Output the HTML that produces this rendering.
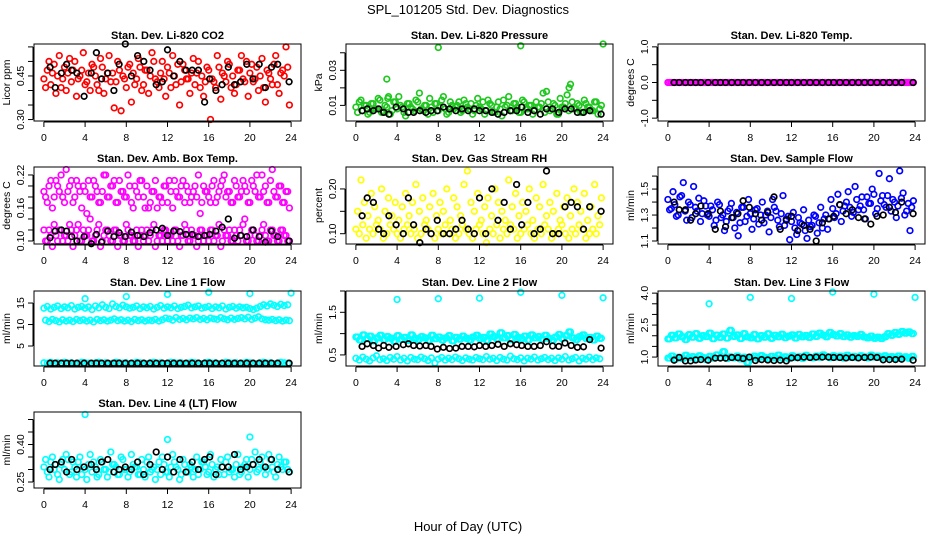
<!DOCTYPE html>
<html><head><meta charset="utf-8"><style>
body{margin:0;background:#fff;}
svg{display:block;font-family:"Liberation Sans",Arial,sans-serif;}
</style></head><body>
<svg id="chart" width="936" height="540" viewBox="0 0 936 540" xmlns="http://www.w3.org/2000/svg">
<text x="468" y="14" text-anchor="middle" font-size="13">SPL_101205  Std. Dev. Diagnostics</text>
<text x="468" y="531" text-anchor="middle" font-size="13">Hour of Day (UTC)</text>
</svg>
<script>
const T=[0,0.33,0.67,1,1.33,1.67,2,2.33,2.67,3,3.33,3.67,4,4.33,4.67,5,5.33,5.67,6,6.33,6.67,7,7.33,7.67,8,8.33,8.67,9,9.33,9.67,10,10.33,10.67,11,11.33,11.67,12,12.33,12.67,13,13.33,13.67,14,14.33,14.67,15,15.33,15.67,16,16.33,16.67,17,17.33,17.67,18,18.33,18.67,19,19.33,19.67,20,20.33,20.67,21,21.33,21.67,22,22.33,22.67,23,23.33,23.67];
const T2=[0.17,0.5,0.83,1.17,1.5,1.83,2.17,2.5,2.83,3.17,3.5,3.83,4.17,4.5,4.83,5.17,5.5,5.83,6.17,6.5,6.83,7.17,7.5,7.83,8.17,8.5,8.83,9.17,9.5,9.83,10.17,10.5,10.83,11.17,11.5,11.83,12.17,12.5,12.83,13.17,13.5,13.83,14.17,14.5,14.83,15.17,15.5,15.83,16.17,16.5,16.83,17.17,17.5,17.83,18.17,18.5,18.83,19.17,19.5,19.83,20.17,20.5,20.83,21.17,21.5,21.83,22.17,22.5,22.83,23.17,23.5,23.83];
const TB=[0.6,1.1,1.7,2.2,2.7,3.2,3.9,4.6,5.1,5.6,6.2,6.8,7.3,7.9,8.5,9.1,9.7,10.3,10.9,11.5,12.0,12.6,13.2,13.8,14.4,15.0,15.6,16.1,16.7,17.3,17.9,18.5,19.1,19.7,20.3,20.9,21.5,22.1,22.7,23.8];
const TOUT=[4,8,12,16,20,24];
const xTicks=[0,4,8,12,16,20,24];

const co2A=[0.44,0.47,0.42,0.49,0.45,0.41,0.48,0.46,0.43,0.50,0.44,0.47,0.42,0.46,0.49,0.45,0.40,0.48,0.44,0.52,0.46,0.43,0.47,0.45,0.41,0.49,0.46,0.44,0.48,0.42,0.47,0.45,0.50,0.43,0.46,0.44,0.48,0.41,0.45,0.49,0.43,0.47,0.44,0.46,0.42,0.50,0.45,0.43,0.47,0.44,0.41,0.48,0.46,0.43,0.49,0.45,0.42,0.47,0.44,0.50,0.46,0.43,0.48,0.45,0.41,0.47,0.44,0.49,0.42,0.46,0.45,0.48];
const co2B=[0.41,0.50,0.46,0.39,0.52,0.44,0.40,0.51,0.47,0.38,0.45,0.53,0.43,0.40,0.48,0.42,0.51,0.39,0.46,0.43,0.34,0.50,0.33,0.44,0.48,0.36,0.42,0.51,0.40,0.47,0.39,0.53,0.44,0.41,0.50,0.38,0.46,0.52,0.42,0.35,0.49,0.44,0.39,0.51,0.46,0.41,0.38,0.48,0.30,0.43,0.52,0.37,0.45,0.50,0.41,0.39,0.47,0.52,0.43,0.38,0.49,0.44,0.40,0.51,0.36,0.46,0.42,0.52,0.39,0.47,0.55,0.35];
const co2K=[0.48,0.41,0.46,0.49,0.47,0.46,0.38,0.46,0.53,0.44,0.46,0.40,0.49,0.56,0.45,0.52,0.50,0.47,0.42,0.43,0.54,0.45,0.50,0.47,0.47,0.47,0.36,0.44,0.40,0.42,0.48,0.42,0.43,0.49,0.44,0.49,0.41,0.48,0.49,0.43];

const prA=[0.009,0.012,0.007,0.010,0.006,0.011,0.008,0.013,0.007,0.009,0.005,0.012,0.008,0.010,0.006,0.011,0.009,0.007,0.012,0.008,0.010,0.005,0.009,0.011,0.007,0.013,0.008,0.006,0.010,0.009,0.012,0.007,0.011,0.008,0.005,0.010,0.009,0.012,0.007,0.011,0.006,0.009,0.008,0.013,0.010,0.007,0.011,0.009,0.006,0.012,0.008,0.010,0.007,0.009,0.011,0.006,0.012,0.008,0.010,0.005,0.009,0.011,0.007,0.012,0.008,0.010,0.006,0.011,0.009,0.007,0.012,0.008];
const prB=[0.006,0.013,0.010,0.005,0.011,0.008,0.014,0.006,0.010,0.015,0.007,0.012,0.015,0.009,0.004,0.011,0.008,0.013,0.017,0.007,0.010,0.014,0.006,0.011,0.009,0.015,0.005,0.012,0.008,0.010,0.006,0.013,0.009,0.011,0.007,0.014,0.008,0.005,0.013,0.010,0.006,0.012,0.004,0.009,0.015,0.007,0.011,0.006,0.013,0.008,0.010,0.005,0.012,0.009,0.017,0.018,0.007,0.011,0.005,0.014,0.009,0.016,0.022,0.008,0.011,0.006,0.013,0.009,0.007,0.012,0.005,0.010];
const prOutT=[3,8,16,24,20.7,3.1];
const prOut=[0.025,0.043,0.044,0.045,0.020,0.014];
const prK=[0.007,0.008,0.007,0.008,0.006,0.005,0.009,0.008,0.006,0.006,0.007,0.006,0.007,0.007,0.009,0.008,0.007,0.008,0.007,0.008,0.007,0.007,0.006,0.005,0.006,0.007,0.007,0.009,0.006,0.007,0.005,0.008,0.008,0.006,0.008,0.008,0.006,0.006,0.007,0.005];

const tmA=[0,0,0,0,0,0,0,0,0,0,0,0,0,0,0,0,0,0,0,0,0,0,0,0,0,0,0,0,0,0,0,0,0,0,0,0,0,0,0,0,0,0,0,0,0,0,0,0,0,0,0,0,0,0,0,0,0,0,0,0,0,0,0,0,0,0,0,0,0,0,0,0];
const tmK=[0,0,0,0,0,0,0,0,0,0,0,0,0,0,0,0,0,0,0,0,0,0,0,0,0,0,0,0,0,0,0,0,0,0,0,0,0,0,0,0];

const abUA=[0.19,0.17,0.21,0.18,0.20,0.22,0.17,0.19,0.21,0.18,0.20,0.16,0.19,0.21,0.18,0.20,0.17,0.19,0.22,0.18,0.20,0.17,0.21,0.19,0.18,0.20,0.16,0.19,0.21,0.18,0.20,0.17,0.19,0.16,0.18,0.20,0.17,0.19,0.21,0.18,0.20,0.17,0.19,0.18,0.20,0.22,0.17,0.19,0.18,0.20,0.17,0.19,0.21,0.18,0.19,0.17,0.20,0.18,0.21,0.19,0.17,0.20,0.22,0.18,0.19,0.17,0.21,0.19,0.18,0.20,0.17,0.19];
const abUB=[0.18,0.20,0.16,0.21,0.19,0.18,0.23,0.20,0.17,0.21,0.19,0.20,0.15,0.18,0.21,0.19,0.17,0.22,0.18,0.20,0.21,0.17,0.19,0.18,0.22,0.17,0.20,0.18,0.21,0.16,0.16,0.19,0.21,0.18,0.17,0.20,0.21,0.16,0.19,0.18,0.21,0.20,0.17,0.19,0.18,0.15,0.20,0.19,0.17,0.21,0.18,0.20,0.22,0.19,0.17,0.21,0.18,0.19,0.20,0.17,0.21,0.19,0.18,0.22,0.20,0.17,0.23,0.18,0.20,0.17,0.19,0.16];
const abLA=[0.12,0.10,0.11,0.13,0.10,0.12,0.11,0.10,0.12,0.11,0.13,0.10,0.11,0.12,0.10,0.11,0.13,0.10,0.12,0.11,0.10,0.12,0.11,0.10,0.13,0.11,0.10,0.12,0.11,0.10,0.12,0.11,0.13,0.10,0.11,0.12,0.10,0.11,0.12,0.10,0.11,0.13,0.10,0.12,0.11,0.10,0.12,0.11,0.10,0.12,0.11,0.13,0.10,0.11,0.12,0.10,0.11,0.12,0.13,0.10,0.11,0.12,0.10,0.11,0.13,0.10,0.12,0.11,0.10,0.12,0.11,0.10];
const abLB=[0.10,0.12,0.09,0.11,0.12,0.10,0.11,0.13,0.09,0.12,0.10,0.12,0.11,0.14,0.10,0.12,0.09,0.11,0.12,0.10,0.12,0.09,0.11,0.10,0.12,0.11,0.10,0.09,0.12,0.11,0.10,0.12,0.09,0.11,0.10,0.12,0.11,0.10,0.12,0.09,0.11,0.12,0.10,0.11,0.09,0.12,0.10,0.11,0.12,0.10,0.11,0.09,0.12,0.11,0.10,0.12,0.10,0.11,0.14,0.10,0.12,0.11,0.10,0.12,0.11,0.10,0.12,0.11,0.10,0.12,0.11,0.10];
const abK=[0.106,0.118,0.120,0.118,0.108,0.100,0.108,0.095,0.112,0.098,0.118,0.108,0.115,0.108,0.116,0.110,0.108,0.115,0.120,0.123,0.110,0.118,0.117,0.112,0.112,0.108,0.110,0.112,0.118,0.125,0.140,0.105,0.110,0.108,0.120,0.108,0.098,0.118,0.108,0.100];

const rhA=[0.11,0.10,0.12,0.09,0.11,0.10,0.12,0.11,0.09,0.10,0.12,0.11,0.10,0.09,0.11,0.12,0.10,0.11,0.09,0.10,0.12,0.11,0.10,0.09,0.11,0.10,0.12,0.10,0.11,0.09,0.10,0.12,0.11,0.10,0.09,0.11,0.12,0.10,0.08,0.11,0.10,0.12,0.09,0.11,0.10,0.12,0.11,0.09,0.10,0.11,0.12,0.10,0.09,0.11,0.10,0.12,0.11,0.09,0.10,0.11,0.12,0.10,0.09,0.11,0.10,0.12,0.11,0.09,0.10,0.11,0.10,0.12];
const rhB=[0.15,0.22,0.17,0.14,0.19,0.16,0.13,0.20,0.15,0.18,0.14,0.17,0.13,0.16,0.19,0.14,0.17,0.21,0.15,0.18,0.13,0.16,0.19,0.14,0.17,0.15,0.20,0.13,0.18,0.16,0.14,0.21,0.24,0.17,0.15,0.19,0.13,0.16,0.18,0.14,0.20,0.17,0.15,0.13,0.22,0.16,0.19,0.14,0.17,0.15,0.20,0.13,0.18,0.16,0.21,0.14,0.17,0.15,0.19,0.13,0.16,0.18,0.14,0.20,0.17,0.15,0.19,0.13,0.16,0.21,0.14,0.18];
const rhK=[0.14,0.18,0.17,0.11,0.10,0.14,0.12,0.10,0.18,0.12,0.08,0.11,0.10,0.13,0.10,0.10,0.11,0.13,0.11,0.10,0.18,0.10,0.20,0.13,0.17,0.11,0.21,0.12,0.17,0.10,0.11,0.24,0.10,0.10,0.16,0.17,0.16,0.11,0.16,0.15];

const sfA=[1.42,1.35,1.38,1.30,1.45,1.33,1.40,1.28,1.36,1.43,1.31,1.37,1.29,1.34,1.26,1.38,1.30,1.25,1.35,1.28,1.32,1.24,1.36,1.29,1.31,1.27,1.35,1.30,1.24,1.33,1.28,1.36,1.26,1.31,1.22,1.29,1.25,1.20,1.28,1.23,1.18,1.26,1.22,1.29,1.24,1.20,1.30,1.27,1.35,1.31,1.38,1.33,1.40,1.36,1.32,1.42,1.37,1.34,1.44,1.39,1.46,1.35,1.41,1.38,1.45,1.33,1.40,1.37,1.43,1.30,1.39,1.36];
const sfB=[1.34,1.48,1.29,1.44,1.55,1.26,1.38,1.52,1.33,1.25,1.41,1.30,1.37,1.22,1.40,1.28,1.18,1.33,1.39,1.20,1.14,1.36,1.25,1.42,1.19,1.34,1.23,1.40,1.30,1.17,1.42,1.33,1.21,1.45,1.27,1.11,1.32,1.15,1.24,1.34,1.12,1.21,1.30,1.16,1.36,1.27,1.19,1.42,1.28,1.46,1.25,1.37,1.48,1.29,1.52,1.34,1.44,1.27,1.39,1.50,1.31,1.62,1.45,1.36,1.58,1.42,1.28,1.64,1.47,1.33,1.18,1.41];
const sfK=[1.40,1.34,1.34,1.26,1.31,1.37,1.31,1.19,1.33,1.21,1.28,1.31,1.41,1.36,1.31,1.26,1.32,1.44,1.19,1.26,1.29,1.18,1.22,1.19,1.10,1.24,1.27,1.29,1.38,1.31,1.34,1.28,1.27,1.23,1.29,1.30,1.36,1.32,1.40,1.31];

const l1U=[13.8,14.2,13.6,14.0,14.3,13.7,14.1,13.9,14.4,13.6,14.0,14.2,13.8,14.1,13.5,14.3,13.9,14.6,14.0,13.7,14.8,14.2,13.9,14.5,14.1,13.8,14.0,14.3,13.7,14.1,13.9,14.2,13.6,14.0,14.4,13.8,14.1,13.9,14.3,13.7,14.0,14.2,14.5,13.9,14.1,14.3,13.8,14.0,14.2,13.7,14.1,13.9,14.3,13.6,14.0,14.2,13.8,14.1,13.9,14.0,13.7,13.5,13.8,14.2,14.6,14.3,14.8,14.5,14.2,14.7,14.4,14.6];
const l1M=[11.0,10.7,11.2,10.9,10.6,11.1,10.8,11.0,10.7,11.2,10.9,11.1,10.8,11.0,10.6,11.2,10.9,11.1,10.8,11.0,11.3,10.9,11.1,10.8,11.0,10.7,11.2,10.9,11.1,10.8,11.0,10.9,11.2,10.8,11.1,11.5,11.3,11.0,11.6,11.2,11.4,11.1,11.5,11.3,11.6,11.2,11.4,11.1,11.5,11.3,11.2,11.6,11.3,11.1,11.5,11.2,11.4,11.6,11.3,11.7,11.2,11.5,11.8,11.3,11.1,11.0,11.2,10.9,11.1,10.8,11.0,10.9];
const l1L=[1.1,1.0,1.2,0.9,1.1,1.0,1.2,1.0,1.1,0.9,1.0,1.2,1.1,1.0,0.9,1.1,1.2,1.0,1.1,0.9,1.0,1.2,1.1,1.0,1.1,0.9,1.0,1.2,1.1,1.0,0.9,1.1,1.2,1.0,1.1,0.9,1.0,1.2,1.1,1.0,1.1,0.9,1.0,1.2,1.1,1.0,0.9,1.1,1.2,1.0,1.1,0.9,1.0,1.2,1.1,1.0,1.1,0.9,1.0,1.2,1.1,1.0,0.9,1.1,1.2,1.0,1.1,0.9,1.0,1.2,1.1,1.0];
const l1Out=[16.0,16.5,17.0,17.5,17.2,17.3];
const l1K=[1.0,1.0,1.0,1.0,1.0,1.0,1.0,1.0,1.0,1.0,1.0,1.0,1.0,1.0,1.0,1.0,1.0,1.0,1.0,1.0,1.0,1.0,1.0,1.0,1.0,1.0,1.0,1.0,1.0,1.0,1.0,1.0,1.0,1.0,1.0,1.0,1.0,1.0,1.0,1.0];

const l2U=[0.92,0.85,0.97,0.88,0.94,0.83,0.90,0.96,0.86,0.93,0.89,0.82,0.95,0.87,0.91,0.84,0.97,0.89,0.86,0.93,0.90,0.84,0.96,0.88,0.92,0.85,0.90,0.95,0.83,0.91,0.87,0.94,0.89,0.85,0.92,0.96,0.88,0.91,0.84,0.99,0.93,0.87,1.02,0.90,0.95,0.86,0.98,0.91,0.88,0.94,0.85,0.97,0.90,0.93,0.87,0.96,0.89,0.84,0.92,0.98,0.88,0.95,1.04,0.90,0.86,0.93,0.97,0.88,0.91,0.85,0.94,0.89];
const l2L=[0.42,0.38,0.45,0.40,0.36,0.43,0.48,0.39,0.41,0.37,0.44,0.40,0.46,0.38,0.42,0.36,0.44,0.40,0.39,0.45,0.41,0.37,0.43,0.31,0.40,0.44,0.38,0.42,0.39,0.45,0.41,0.37,0.43,0.40,0.38,0.44,0.41,0.39,0.46,0.40,0.42,0.37,0.44,0.40,0.38,0.47,0.41,0.39,0.43,0.36,0.42,0.40,0.45,0.38,0.41,0.44,0.39,0.42,0.37,0.43,0.40,0.46,0.38,0.41,0.44,0.36,0.42,0.40,0.45,0.39,0.43,0.41];
const l2Out=[1.80,1.82,1.83,1.97,1.90,1.84];
const l2K=[0.70,0.76,0.72,0.66,0.72,0.68,0.70,0.74,0.76,0.72,0.71,0.72,0.70,0.64,0.68,0.65,0.66,0.70,0.70,0.69,0.72,0.70,0.72,0.75,0.70,0.76,0.74,0.72,0.70,0.70,0.72,0.81,0.71,0.70,0.78,0.72,0.68,0.69,0.86,0.66];

const l3U=[1.85,2.02,1.90,2.08,1.95,1.82,2.05,1.93,2.10,1.88,2.00,1.96,2.12,1.86,2.03,1.92,2.08,1.89,2.25,1.97,2.04,1.87,2.10,1.94,1.90,2.06,1.85,2.00,1.93,2.09,1.88,2.02,1.95,2.07,1.91,1.98,2.04,1.89,2.06,1.95,2.01,1.92,2.08,1.97,2.12,2.03,1.95,2.15,2.05,1.99,2.10,1.96,2.04,1.93,2.00,1.97,2.06,1.94,1.90,1.98,1.88,1.93,1.87,1.95,2.10,2.02,2.15,2.07,2.20,2.12,2.18,2.10];
const l3L=[0.95,1.05,0.90,1.00,0.93,1.08,0.97,1.02,0.92,1.06,0.98,0.88,1.03,0.95,1.10,0.97,1.25,0.93,1.01,0.96,1.05,0.91,1.00,0.75,0.98,1.04,0.94,1.07,0.99,0.92,1.03,0.96,1.09,0.95,1.01,0.93,1.06,0.98,1.02,0.94,1.08,1.00,0.96,1.05,0.99,1.10,1.02,0.97,1.06,1.00,1.04,0.95,1.08,0.99,1.03,0.97,1.06,1.01,0.96,1.09,1.00,1.04,0.97,1.06,0.99,1.02,0.95,1.05,0.98,1.01,0.94,1.03];
const l3Out=[3.50,3.80,3.75,4.05,3.95,3.80];
const l3K=[0.85,0.98,0.82,0.82,0.86,0.88,0.85,0.95,0.95,0.95,0.98,0.97,0.93,1.00,0.84,0.88,0.86,0.84,0.85,0.82,0.96,0.97,1.00,0.98,1.00,1.00,1.00,0.98,0.98,0.96,0.98,0.96,0.98,1.00,0.98,0.87,0.88,0.88,0.90,0.85];

const l4A=[0.31,0.29,0.33,0.30,0.28,0.32,0.30,0.34,0.29,0.31,0.33,0.28,0.30,0.32,0.29,0.31,0.28,0.33,0.30,0.29,0.32,0.31,0.28,0.34,0.30,0.29,0.32,0.31,0.28,0.30,0.33,0.29,0.31,0.30,0.28,0.32,0.29,0.31,0.33,0.30,0.28,0.32,0.29,0.31,0.30,0.28,0.33,0.31,0.29,0.32,0.30,0.28,0.31,0.33,0.29,0.30,0.32,0.28,0.31,0.34,0.30,0.32,0.29,0.33,0.31,0.30,0.34,0.29,0.32,0.31,0.33,0.30];
const l4B=[0.34,0.27,0.35,0.32,0.26,0.34,0.36,0.28,0.33,0.27,0.35,0.31,0.26,0.36,0.33,0.27,0.34,0.30,0.27,0.37,0.32,0.28,0.35,0.30,0.27,0.36,0.31,0.28,0.34,0.27,0.35,0.30,0.26,0.33,0.35,0.29,0.27,0.36,0.31,0.26,0.34,0.29,0.32,0.27,0.35,0.30,0.33,0.28,0.36,0.27,0.31,0.34,0.28,0.35,0.30,0.27,0.36,0.29,0.32,0.27,0.34,0.37,0.30,0.35,0.28,0.36,0.31,0.27,0.35,0.30,0.33,0.29];
const l4OutT=[4,12,20];
const l4Out=[0.52,0.42,0.43];
const l4K=[0.30,0.32,0.33,0.29,0.34,0.30,0.31,0.32,0.30,0.33,0.34,0.29,0.30,0.31,0.30,0.33,0.28,0.32,0.37,0.30,0.35,0.29,0.34,0.29,0.33,0.30,0.34,0.35,0.28,0.31,0.31,0.36,0.30,0.31,0.32,0.34,0.31,0.34,0.30,0.29];

const svg=document.getElementById('chart');
const NS='http://www.w3.org/2000/svg';
const colL=[34,346,658], rowT=[44,167,291,412], rowB=[121,244,366,488], W=267;
function mk(tag,attrs,parent){const e=document.createElementNS(NS,tag);for(const k in attrs)e.setAttribute(k,attrs[k]);(parent||svg).appendChild(e);return e;}

function panel(name,col,row,title,ylab,ylim,yt,yl,series){
  const L=colL[col],Tp=rowT[row],B=rowB[row];
  const g=mk('g',{});
  
  
  const X=h=>L+(h+0.96)/25.92*W;
  const Y=v=>B-(v-ylim[0])/(ylim[1]-ylim[0])*(B-Tp);
  const ttl=mk('text',{x:L+W/2,y:Tp-5,'text-anchor':'middle','font-size':11,'font-weight':'bold'},g);
  ttl.textContent=title;
  
  
  series.forEach(s=>{
    const sg=mk('g',{fill:'none',stroke:s.c,'stroke-width':1.7},g);
    
    
    s.y.forEach((v,i)=>{
      const p=mk('circle',{cx:X(s.x[i]).toFixed(1),cy:Y(v).toFixed(1),r:2.8},sg);
      
      
    });
  });
  const box=mk('rect',{x:L,y:Tp,width:W,height:B-Tp,fill:'none',stroke:'#000','stroke-width':1},g);
  
  
  const xa=mk('g',{},g);
  
  
  mk('line',{x1:X(0),x2:X(24),y1:B+1,y2:B+1,stroke:'#000'},xa);
  xTicks.forEach(t=>{
    mk('line',{x1:X(t),x2:X(t),y1:B+1,y2:B+6,stroke:'#000'},xa);
    const tx=mk('text',{x:X(t),y:B+20,'text-anchor':'middle','font-size':10.5},xa);
    tx.textContent=t;
    
    
  });
  const ya=mk('g',{},g);
  
  
  mk('line',{x1:L-1,x2:L-1,y1:Y(yt[0]),y2:Y(yt[yt.length-1]),stroke:'#000'},ya);
  yt.forEach((t,i)=>{
    mk('line',{x1:L-6,x2:L-1,y1:Y(t),y2:Y(t),stroke:'#000'},ya);
    if(yl[i]){
      const tx=mk('text',{x:L-10,y:Y(t),'text-anchor':'middle','font-size':10.5,transform:`rotate(-90 ${L-10} ${Y(t)})`},ya);
      tx.textContent=yl[i];
      
      
    }
  });
  const yc=(Tp+B)/2;
  const yt2=mk('text',{x:L-24,y:yc,'text-anchor':'middle','font-size':10.5,transform:`rotate(-90 ${L-24} ${yc})`},g);
  yt2.textContent=ylab;
  
  
}
const RED='#ff0000',GRN='#1ec81e',MAG='#ff00ff',YEL='#ffff00',BLU='#0000ff',CYN='#00ffff',BLK='#000000';
panel('co2',0,0,'Stan. Dev. Li-820 CO2','Licor ppm',[0.295,0.56],[0.30,0.35,0.40,0.45,0.50,0.55],['0.30','','','0.45','',''],
 [{n:'red-a',x:T,y:co2A,c:RED},{n:'red-b',x:T2,y:co2B,c:RED},{n:'black',x:TB,y:co2K,c:BLK}]);
panel('pressure',1,0,'Stan. Dev. Li-820 Pressure','kPa',[0.0011,0.045],[0.01,0.02,0.03,0.04],['0.01','','0.03',''],
 [{n:'green-a',x:T,y:prA,c:GRN},{n:'green-b',x:T2,y:prB,c:GRN},{n:'green-out',x:prOutT,y:prOut,c:GRN},{n:'black',x:TB,y:prK,c:BLK}]);
panel('temp',2,0,'Stan. Dev. Li-820 Temp.','degrees C',[-1.08,1.08],[-1,-0.5,0,0.5,1],['-1.0','','0.0','','1.0'],
 [{n:'magenta',x:T,y:tmA,c:MAG},{n:'magenta-b',x:T2,y:tmA,c:MAG},{n:'black',x:TB,y:tmK,c:BLK}]);
panel('ambbox',0,1,'Stan. Dev. Amb. Box Temp.','degrees C',[0.0945,0.2345],[0.10,0.12,0.14,0.16,0.18,0.20,0.22],['0.10','','','0.16','','','0.22'],
 [{n:'mag-ua',x:T,y:abUA,c:MAG},{n:'mag-ub',x:T2,y:abUB,c:MAG},{n:'mag-la',x:T,y:abLA,c:MAG},{n:'mag-lb',x:T2,y:abLB,c:MAG},{n:'black',x:TB,y:abK,c:BLK}]);
panel('rh',1,1,'Stan. Dev. Gas Stream RH','percent',[0.077,0.249],[0.10,0.15,0.20],['0.10','','0.20'],
 [{n:'yellow-a',x:T,y:rhA,c:YEL},{n:'yellow-b',x:T2,y:rhB,c:YEL},{n:'black',x:TB,y:rhK,c:BLK}]);
panel('sampleflow',2,1,'Stan. Dev. Sample Flow','ml/min',[1.077,1.67],[1.1,1.2,1.3,1.4,1.5,1.6],['1.1','','1.3','','1.5',''],
 [{n:'blue-a',x:T,y:sfA,c:BLU},{n:'blue-b',x:T2,y:sfB,c:BLU},{n:'black',x:TB,y:sfK,c:BLK}]);
panel('line1',0,2,'Stan. Dev. Line 1 Flow','ml/min',[0.35,17.8],[5,10,15],['5','10','15'],
 [{n:'cyan-u',x:T,y:l1U,c:CYN},{n:'cyan-m',x:T2,y:l1M,c:CYN},{n:'cyan-l',x:T,y:l1L,c:CYN},{n:'cyan-out',x:TOUT,y:l1Out,c:CYN},{n:'black',x:TB,y:l1K,c:BLK}]);
panel('line2',1,2,'Stan. Dev. Line 2 Flow','ml/min',[0.24,2.0],[0.5,1.0,1.5,2.0],['0.5','','1.5',''],
 [{n:'cyan-u',x:T,y:l2U,c:CYN},{n:'cyan-u2',x:T2,y:l2U,c:CYN},{n:'cyan-l',x:T,y:l2L,c:CYN},{n:'cyan-out',x:TOUT,y:l2Out,c:CYN},{n:'black',x:TB,y:l2K,c:BLK}]);
panel('line3',2,2,'Stan. Dev. Line 3 Flow','ml/min',[0.58,4.1],[1.0,1.5,2.0,2.5,3.0,3.5,4.0],['1.0','','','2.5','','','4.0'],
 [{n:'cyan-u',x:T,y:l3U,c:CYN},{n:'cyan-u2',x:T2,y:l3U,c:CYN},{n:'cyan-l',x:T,y:l3L,c:CYN},{n:'cyan-l2',x:T2,y:l3L,c:CYN},{n:'cyan-out',x:TOUT,y:l3Out,c:CYN},{n:'black',x:TB,y:l3K,c:BLK}]);
panel('line4',0,3,'Stan. Dev. Line 4 (LT) Flow','ml/min',[0.226,0.53],[0.25,0.30,0.35,0.40,0.45,0.50],['0.25','','','0.40','',''],
 [{n:'cyan-a',x:T,y:l4A,c:CYN},{n:'cyan-b',x:T2,y:l4B,c:CYN},{n:'cyan-out',x:l4OutT,y:l4Out,c:CYN},{n:'black',x:TB,y:l4K,c:BLK}]);
</script>
</body></html>
